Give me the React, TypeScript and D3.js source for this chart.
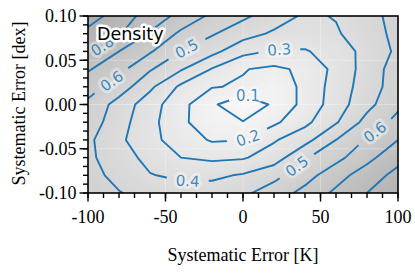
import React from "react";
import * as d3 from "d3";

// Grid nodes of the density map (K and dex)
const xNodes = [-100, -80, -60, -40, -20, 0, 20, 40, 60, 80, 100];
const yNodes = [0.1, 0.08, 0.06, 0.04, 0.02, 0, -0.02, -0.04, -0.06, -0.08, -0.1];

// Density values, one row per yNode (top to bottom)
const densityRows = [
  [0.95, 0.85, 0.76, 0.67, 0.58, 0.52, 0.45, 0.385, 0.405, 0.47, 0.53],
  [0.87, 0.81, 0.69, 0.58, 0.51, 0.44, 0.385, 0.37, 0.39, 0.45, 0.53],
  [0.82, 0.70, 0.61, 0.50, 0.43, 0.33, 0.29, 0.29, 0.35, 0.43, 0.52],
  [0.71, 0.63, 0.51, 0.41, 0.295, 0.205, 0.18, 0.22, 0.33, 0.44, 0.55],
  [0.64, 0.555, 0.42, 0.28, 0.205, 0.19, 0.12, 0.23, 0.34, 0.45, 0.55],
  [0.58, 0.46, 0.345, 0.23, 0.12, 0.01, 0.12, 0.23, 0.35, 0.47, 0.58],
  [0.555, 0.44, 0.33, 0.225, 0.125, 0.105, 0.18, 0.275, 0.39, 0.535, 0.63],
  [0.52, 0.42, 0.33, 0.25, 0.19, 0.198, 0.29, 0.365, 0.5, 0.61, 0.70],
  [0.52, 0.445, 0.37, 0.30, 0.28, 0.29, 0.35, 0.49, 0.57, 0.67, 0.77],
  [0.535, 0.47, 0.405, 0.38, 0.38, 0.41, 0.47, 0.56, 0.66, 0.75, 0.83],
  [0.55, 0.505, 0.465, 0.445, 0.445, 0.48, 0.55, 0.63, 0.72, 0.80, 0.87],
];

const contourLevels = [0.1, 0.2, 0.3, 0.4, 0.5, 0.6, 0.7, 0.8, 0.9];

const xTickValues = [-100, -50, 0, 50, 100];
const xTickLabels = ["-100", "-50", "0", "50", "100"];
const yTickValues = [0.1, 0.05, 0, -0.05, -0.1];
const yTickLabels = ["0.10", "0.05", "0.00", "-0.05", "-0.10"];

// Contour label levels and the approximate spot where each label sits
const labelLevels = [0.1, 0.2, 0.3, 0.4, 0.5, 0.5, 0.6, 0.6, 0.8];
const labelAnchorX = [3.2, 3, 23.4, -35.7, -36.8, 35.3, -85.2, 84.7, -91.6];
const labelAnchorY = [0.0102, -0.0371, 0.0579, -0.0898, 0.0646, -0.071, 0.0277, -0.0303, 0.0684];
const labelSnap = [false, true, true, true, true, true, true, true, true];
const labelGapW = [38, 42, 42, 42, 42, 42, 42, 42, 42];
const labelGapH = [11, 14, 14, 14, 14, 14, 14, 14, 14];

const W = 415;
const H = 273;
const M = { left: 88, right: 17, top: 16, bottom: 80 };
const LINE = "#1f77b4";

export default function App() {
  const x = d3.scaleLinear().domain([-100, 100]).range([M.left, W - M.right]);
  const y = d3.scaleLinear().domain([-0.1, 0.1]).range([H - M.bottom, M.top]);
  const nx = xNodes.length;
  const ny = yNodes.length;
  const gx = d3.scaleLinear().domain([0.5, nx - 0.5]).range([x(xNodes[0]), x(xNodes[nx - 1])]);
  const gy = d3.scaleLinear().domain([0.5, ny - 0.5]).range([y(yNodes[0]), y(yNodes[ny - 1])]);
  const values = densityRows.flat();

  const proj = d3.geoTransform({
    point: function (a: number, b: number) {
      (this as any).stream.point(gx(a), gy(b));
    },
  });
  const path = d3.geoPath(proj as any);

  const gray = d3
    .scalePow()
    .exponent(1.25)
    .domain([0, 1])
    .range(["#f8f8f8", "#a6a6a6"] as any)
    .interpolate(d3.interpolateRgb as any) as any;

  const shadeLevels = d3.range(0, 1.0, 0.01);
  const bands = d3.contours().size([nx, ny]).thresholds(shadeLevels)(values);
  const lines = d3.contours().size([nx, ny]).thresholds(contourLevels)(values);

  const labels = labelLevels.map((lv, k) => {
    const ax = x(labelAnchorX[k]);
    const ay = y(labelAnchorY[k]);
    const base = { text: lv.toFixed(1), w: labelGapW[k], h: labelGapH[k] };
    if (!labelSnap[k]) return { ...base, x: ax, y: ay, angle: 0 };
    const c = lines.find((cc) => Math.abs(cc.value - lv) < 1e-9)!;
    let best: any = null;
    c.coordinates.forEach((poly) =>
      poly.forEach((ring) => {
        const pts = ring.map(([a, b]) => [gx(a), gy(b)]);
        for (let i = 0; i < pts.length - 1; i++) {
          const [x1, y1] = pts[i];
          const [x2, y2] = pts[i + 1];
          const dx = x2 - x1;
          const dy = y2 - y1;
          const L2 = dx * dx + dy * dy || 1e-9;
          let t = ((ax - x1) * dx + (ay - y1) * dy) / L2;
          t = Math.max(0, Math.min(1, t));
          const px = x1 + t * dx;
          const py = y1 + t * dy;
          const d = (px - ax) ** 2 + (py - ay) ** 2;
          if (!best || d < best.d) best = { d, pts, i, t, px, py };
        }
      })
    );
    const { pts, i, t } = best;
    const cum = [0];
    for (let j = 1; j < pts.length; j++)
      cum.push(cum[j - 1] + Math.hypot(pts[j][0] - pts[j - 1][0], pts[j][1] - pts[j - 1][1]));
    const total = cum[cum.length - 1];
    const s0 = cum[i] + t * (cum[i + 1] - cum[i]);
    const at = (s: number) => {
      s = ((s % total) + total) % total;
      let j = d3.bisectRight(cum, s) - 1;
      j = Math.min(Math.max(j, 0), pts.length - 2);
      const seg = cum[j + 1] - cum[j] || 1e-9;
      const u = (s - cum[j]) / seg;
      return [pts[j][0] + u * (pts[j + 1][0] - pts[j][0]), pts[j][1] + u * (pts[j + 1][1] - pts[j][1])];
    };
    const p1 = at(s0 - 14);
    const p2 = at(s0 + 14);
    let ang = (Math.atan2(p2[1] - p1[1], p2[0] - p1[0]) * 180) / Math.PI;
    if (ang > 90) ang -= 180;
    if (ang < -90) ang += 180;
    return { ...base, x: best.px, y: best.py, angle: ang };
  });

  const x0 = M.left;
  const x1 = W - M.right;
  const y0 = M.top;
  const y1 = H - M.bottom;
  const serif = "'Liberation Serif', 'Times New Roman', serif";
  const sans = "'DejaVu Sans', sans-serif";

  return (
    <svg width={W} height={H} style={{ position: "absolute", left: 0, top: 0, background: "#fff" }}>
      <defs>
        <clipPath id="plotClip">
          <rect x={x0} y={y0} width={x1 - x0} height={y1 - y0} />
        </clipPath>
        <mask id="gapMask" maskUnits="userSpaceOnUse" x={0} y={0} width={W} height={H}>
          <rect x={0} y={0} width={W} height={H} fill="white" />
          {labels.map((l, k) => (
            <rect
              key={k}
              x={-l.w / 2}
              y={-l.h / 2}
              width={l.w}
              height={l.h}
              fill="black"
              transform={`translate(${l.x},${l.y}) rotate(${l.angle})`}
            />
          ))}
        </mask>
      </defs>

      <g clipPath="url(#plotClip)">
        {bands.map((b, k) => (
          <path key={k} d={path(b as any) || ""} fill={gray(b.value + 0.005)} stroke="none" />
        ))}
        {xTickValues.map((v, k) => (
          <line key={"gx" + k} x1={x(v)} x2={x(v)} y1={y0} y2={y1} stroke="#fff" strokeOpacity={0.3} strokeWidth={1} />
        ))}
        {yTickValues.map((v, k) => (
          <line key={"gy" + k} x1={x0} x2={x1} y1={y(v)} y2={y(v)} stroke="#fff" strokeOpacity={0.3} strokeWidth={1} />
        ))}
      </g>

      <g mask="url(#gapMask)">
        <g clipPath="url(#plotClip)">
          {lines.map((c, k) => (
            <path key={k} d={path(c as any) || ""} fill="none" stroke={LINE} strokeWidth={1.9} strokeLinejoin="round" />
          ))}
        </g>
      </g>

      {labels.map((l, k) => (
        <text
          key={k}
          x={0}
          y={0}
          dy="0.36em"
          transform={`translate(${l.x},${l.y}) rotate(${l.angle})`}
          textAnchor="middle"
          fontFamily={sans}
          fontSize={15}
          fill={LINE}
          fillOpacity={0.85}
          stroke="#fff"
          strokeOpacity={0.35}
          strokeWidth={6}
          strokeLinejoin="round"
          style={{ paintOrder: "stroke" }}
        >
          {l.text}
        </text>
      ))}

      <text
        x={97}
        y={39.5}
        fontFamily={sans}
        fontSize={17.5}
        fill="#000"
        stroke="#fff"
        strokeWidth={5}
        strokeLinejoin="round"
        style={{ paintOrder: "stroke" }}
      >
        Density
      </text>

      <rect x={x0} y={y0} width={x1 - x0} height={y1 - y0} fill="none" stroke="#000" strokeWidth={1.6} />

      {x.ticks(20).map((v, k) => (
        <line key={"xm" + k} x1={x(v)} x2={x(v)} y1={y1} y2={y1 + 5} stroke="#000" strokeWidth={1.4} />
      ))}
      {xTickValues.map((v, k) => (
        <g key={"xt" + k}>
          <line x1={x(v)} x2={x(v)} y1={y1} y2={y1 + 8.5} stroke="#000" strokeWidth={1.4} />
          <text x={x(v)} y={223.3} textAnchor="middle" fontFamily={serif} fontSize={18} fill="#000">
            {xTickLabels[k]}
          </text>
        </g>
      ))}
      {y.ticks(20).map((v, k) => (
        <line key={"ym" + k} x1={x0 - 5} x2={x0} y1={y(v)} y2={y(v)} stroke="#000" strokeWidth={1.4} />
      ))}
      {yTickValues.map((v, k) => (
        <g key={"yt" + k}>
          <line x1={x0 - 8.5} x2={x0} y1={y(v)} y2={y(v)} stroke="#000" strokeWidth={1.4} />
          <text x={76.5} y={y(v)} dy="0.36em" textAnchor="end" fontFamily={serif} fontSize={18} fill="#000">
            {yTickLabels[k]}
          </text>
        </g>
      ))}

      <text x={(x0 + x1) / 2} y={260.5} textAnchor="middle" fontFamily={serif} fontSize={18} fill="#000">
        Systematic Error [K]
      </text>
      <text
        transform={`translate(25,${(y0 + y1) / 2 - 1}) rotate(-90)`}
        textAnchor="middle"
        fontFamily={serif}
        fontSize={18}
        fill="#000"
      >
        Systematic Error [dex]
      </text>
    </svg>
  );
}
